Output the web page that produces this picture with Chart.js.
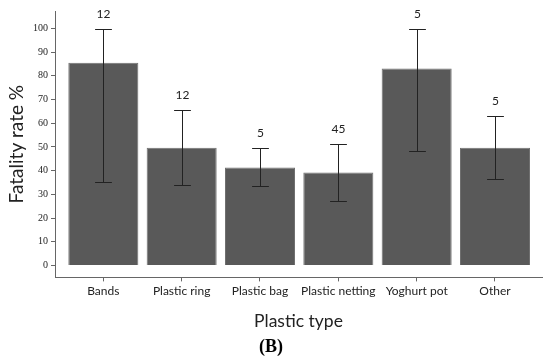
<!DOCTYPE html>
<html>
<head>
<meta charset="utf-8">
<script src="https://cdn.jsdelivr.net/npm/chart.js@4"></script>
<style>
  html, body { margin: 0; padding: 0; background: #ffffff; }
  #wrap { width: 550px; height: 363px; }
</style>
</head>
<body>
<div id="wrap"><canvas id="myChart" width="550" height="363"></canvas></div>
<script>
// data
let categories = ["Bands", "Plastic ring", "Plastic bag", "Plastic netting", "Yoghurt pot", "Other"];
let fatality = [85.5, 49.7, 41.3, 39.2, 83.1, 49.7];
let errHigh = [99.8, 65.6, 49.6, 51.4, 99.8, 63.2];
let errLow = [35.2, 34.1, 33.5, 27.0, 48.3, 36.3];
let sampleSize = ["12", "12", "5", "45", "5", "5"];
let yTicks = [0, 10, 20, 30, 40, 50, 60, 70, 80, 90, 100];

let ctx1 = document.querySelector("#myChart");

// error bars + n labels drawn from the scales
let errorBars = {
    id: "errorBars",
    afterDatasetsDraw(chart) {
        let c = chart.ctx;
        let xs = chart.scales.x;
        let ys = chart.scales.y;
        let meta = chart.getDatasetMeta(0);
        c.save();
        c.strokeStyle = "#222";
        c.lineWidth = 1;
        c.fillStyle = "#222";
        c.font = "12px Lato";
        c.textAlign = "center";
        c.textBaseline = "middle";
        categories.forEach((cat, i) => {
            let x = Math.round(xs.getPixelForValue(i)) + 0.5;
            let hi = Math.round(ys.getPixelForValue(errHigh[i])) + 0.5;
            let lo = Math.round(ys.getPixelForValue(errLow[i])) + 0.5;
            let half = meta.data[i].width * 0.12;
            c.beginPath();
            c.moveTo(x, hi);
            c.lineTo(x, lo);
            c.moveTo(x - half, hi);
            c.lineTo(x + half, hi);
            c.moveTo(x - half, lo);
            c.lineTo(x + half, lo);
            c.stroke();
            c.fillText(sampleSize[i], x, hi - 15);
        });
        c.restore();
    }
};

new Chart(ctx1, {
    type: "bar",
    data: {
        datasets: [{
            label: "Fatality rate",
            data: fatality.map((v, i) => ({ x: i, y: v })),
            backgroundColor: "#595959",
            borderColor: "#707070",
            borderWidth: 1,
            barPercentage: 0.894,
            categoryPercentage: 1
        }]
    },
    options: {
        responsive: false,
        animation: false,
        layout: {
            padding: { top: 11, right: 8, left: 0, bottom: 0 }
        },
        plugins: {
            legend: { display: false },
            tooltip: { enabled: false },
            title: {
                display: true,
                position: "bottom",
                text: "(B)",
                color: "#000",
                font: { family: "Liberation Serif", size: 18, weight: "bold" },
                padding: { top: 0, bottom: 5 }
            }
        },
        scales: {
            x: {
                type: "linear",
                offset: false,
                min: -0.617,
                max: 5.6,
                afterFit: (scale) => { scale.height = 59; },
                grid: {
                    offset: false,
                    drawOnChartArea: false,
                    drawTicks: true,
                    tickLength: 4,
                    color: "#666"
                },
                border: { display: true, color: "#666" },
                ticks: {
                    stepSize: 1,
                    includeBounds: false,
                    autoSkip: false,
                    maxRotation: 0,
                    padding: 3,
                    color: "#222",
                    font: { family: "Lato", size: 12 },
                    callback: (v) => categories[v] || ""
                },
                title: {
                    display: true,
                    text: "Plastic type",
                    color: "#222",
                    font: { family: "Lato", size: 17.5 },
                    padding: { top: 0, bottom: 5 }
                }
            },
            y: {
                min: -5,
                max: 107.3,
                afterFit: (scale) => { scale.width = 55; },
                afterBuildTicks: (scale) => {
                    scale.ticks = yTicks.map((v) => ({ value: v }));
                },
                grid: {
                    drawOnChartArea: false,
                    drawTicks: true,
                    tickLength: 4,
                    color: "#666"
                },
                border: { display: true, color: "#666" },
                ticks: {
                    padding: 3,
                    color: "#222",
                    font: { family: "Liberation Sans Narrow", size: 10 }
                },
                title: {
                    display: true,
                    text: "Fatality rate %",
                    color: "#222",
                    font: { family: "Lato", size: 19 },
                    padding: { top: 5, bottom: 0 }
                }
            }
        }
    },
    plugins: [errorBars]
});
</script>
</body>
</html>
